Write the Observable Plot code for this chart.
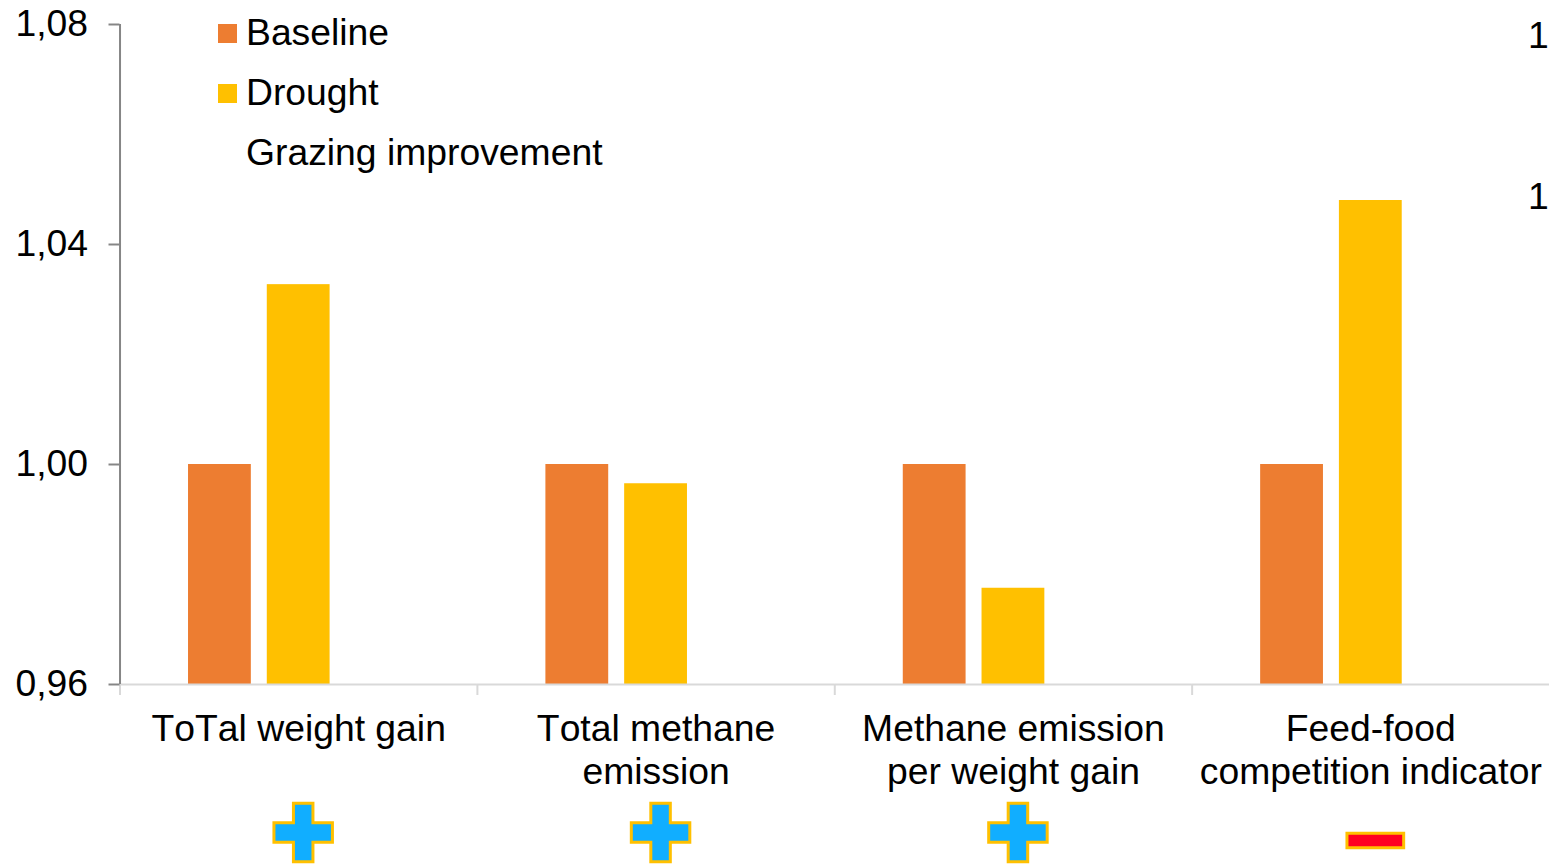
<!DOCTYPE html>
<html>
<head>
<meta charset="utf-8">
<script src="https://cdn.jsdelivr.net/npm/d3@7"></script>
<script src="https://cdn.jsdelivr.net/npm/@observablehq/plot@0.6"></script>
<style>
  html, body { margin: 0; padding: 0; background: #fff; overflow: hidden; }
  #wrap { position: relative; width: 1549px; height: 864px; font-family: "Liberation Sans", Arial, sans-serif; color: #000; font-kerning: none; }
  #wrap svg { display: block; font-kerning: none; }
  .leg { position: absolute; left: 246px; font-size: 37.3px; line-height: 40px; white-space: nowrap; }
  .sw { position: absolute; left: 218px; width: 19px; height: 19px; }
  .cut { position: absolute; left: 1528px; font-size: 37.3px; line-height: 40px; }
</style>
</head>
<body>
<div id="wrap"></div>
<script>
const categories = ["ToTal weight gain", "Total methane\nemission", "Methane emission\nper weight gain", "Feed-food\ncompetition indicator"];
const series = ["Baseline", "Drought", "Grazing improvement"];
const baselineValues = [1.0, 1.0, 1.0, 1.0];
const droughtValues = [1.0327, 0.9965, 0.9775, 1.048];
const signs = ["plus", "plus", "plus", "minus"];
const yTicks = [0.96, 1.0, 1.04, 1.08];
const seriesColors = ["#ed7d31", "#ffc000", "none"];
const strayLabels = [{text: "1", top: 15}, {text: "1", top: 176}];

const rows = [
  ...categories.map((c, i) => ({category: c, series: series[0], value: baselineValues[i]})),
  ...categories.map((c, i) => ({category: c, series: series[1], value: droughtValues[i]}))
];
const signRows = categories.map((c, i) => ({category: c, sign: signs[i]}));
const bottom = yTicks[0];
const minusSymbol = {
  draw(context, size) {
    const w = Math.sqrt(size * 4), h = w * 0.26;
    context.rect(-w / 2, -h / 2, w, h);
  }
};

const plot = Plot.plot({
  width: 1549,
  height: 864,
  marginLeft: 119.5,
  marginRight: 0,
  marginTop: 24,
  marginBottom: 180,
  style: {fontFamily: "'Liberation Sans', Arial, sans-serif", fontSize: "37.3px", color: "#000", background: "#fff", overflow: "visible"},
  fx: {domain: categories, padding: 0, label: null, round: false},
  x: {domain: series, paddingInner: 0.2025, paddingOuter: 0.87, axis: null, label: null, round: false},
  y: {domain: [yTicks[0], yTicks[3]], label: null},
  color: {domain: series, range: seriesColors},
  marks: [
    Plot.barY(rows, {fx: "category", x: "series", y1: () => bottom, y2: "value", fill: "series"}),
    Plot.ruleY([bottom], {stroke: "#d9d9d9", strokeWidth: 2}),
    Plot.ruleX(categories, {fx: d => d, x: () => series[0], y1: () => bottom - 0.002, y2: () => bottom, dx: -99.9, stroke: "#d9d9d9", strokeWidth: 2}),
    Plot.ruleX(categories.slice(0, 1), {fx: d => d, x: () => series[0], y1: () => yTicks[0], y2: () => yTicks[3], dx: -99.9, stroke: "#868686", strokeWidth: 2}),
    Plot.axisY({ticks: yTicks, tickFormat: d => d.toFixed(2).replace(".", ","), tickSize: 11, tickPadding: 21, stroke: "#868686", strokeWidth: 2, fontSize: 37.3, fill: "#000", label: null}),
    Plot.axisFx({anchor: "bottom", tickSize: 0, tickPadding: 26, fontSize: 37.3, fill: "#000", lineHeight: 1.15, label: null, lineAnchor: "top"}),
    Plot.dot(signRows.filter(d => d.sign === "plus"), {fx: "category", x: () => series[1], y: () => bottom, dx: 4.5, dy: 148, symbol: "cross", r: 24.6, fill: "#11aeff", stroke: "#ffc000", strokeWidth: 3}),
    Plot.dot(signRows.filter(d => d.sign === "minus"), {fx: "category", x: () => series[1], y: () => bottom, dx: 4.5, dy: 156, symbol: minusSymbol, r: 16, fill: "#ff0022", stroke: "#ffc000", strokeWidth: 3})
  ]
});

const wrap = document.getElementById("wrap");
wrap.appendChild(plot);
series.forEach((s, i) => {
  const t = document.createElement("div");
  t.className = "leg";
  t.style.top = (12 + i * 60) + "px";
  t.textContent = s;
  wrap.appendChild(t);
  if (seriesColors[i] !== "none") {
    const k = document.createElement("div");
    k.className = "sw";
    k.style.top = (24 + i * 60) + "px";
    k.style.background = seriesColors[i];
    wrap.appendChild(k);
  }
});
strayLabels.forEach(l => {
  const t = document.createElement("div");
  t.className = "cut";
  t.style.top = l.top + "px";
  t.textContent = l.text;
  wrap.appendChild(t);
});
</script>
</body>
</html>
